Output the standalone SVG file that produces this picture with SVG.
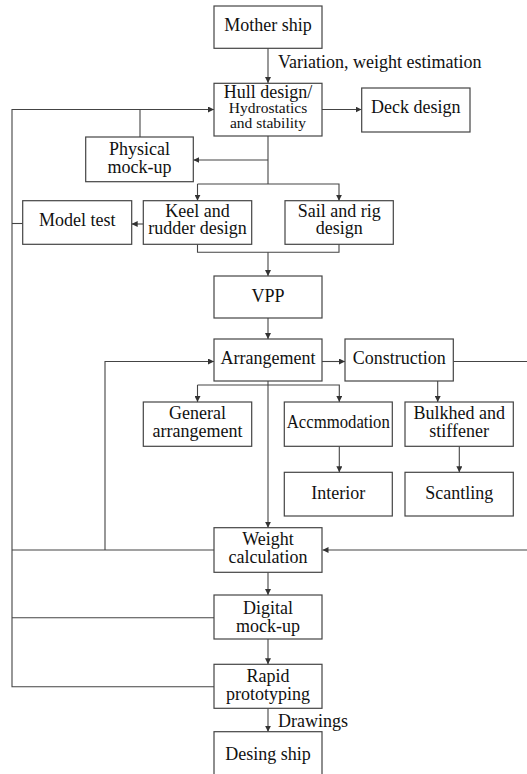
<svg xmlns="http://www.w3.org/2000/svg" width="527" height="774" viewBox="0 0 527 774">
<defs>
<marker id="ah" viewBox="0 0 10 10" refX="10" refY="5" markerWidth="6" markerHeight="6" markerUnits="userSpaceOnUse" orient="auto">
<path d="M0,0 L10,5 L0,10 z" fill="#333"/>
</marker>
<style>
.box{fill:#fff;stroke:#444;stroke-width:1.2}
.t{font-family:"Liberation Serif","Times New Roman",serif;font-size:18px;fill:#111;text-anchor:middle}
.s{font-size:15.5px}
.l{text-anchor:start}
.c{fill:none;stroke:#444;stroke-width:1.1}
.a{marker-end:url(#ah)}
</style>
</defs>
<rect width="527" height="774" fill="#fff"/>
<g id="connectors">
<path class="c a" d="M268,48 V83"/>
<path class="c a" d="M322,109.5 H361.5"/>
<path class="c a" d="M214,686.7 H12 V109.5 H214"/>
<path class="c" d="M12,223.5 H22.7"/>
<path class="c" d="M12,550 H214"/>
<path class="c" d="M12,617.7 H214"/>
<path class="c" d="M140,137 V109.5"/>
<path class="c" d="M268,136 V184"/>
<path class="c a" d="M268,160 H193.3"/>
<path class="c a" d="M197.5,184 V200.7"/>
<path class="c a" d="M197.5,184 H339 V200.7"/>
<path class="c a" d="M143.3,224 H131.7"/>
<path class="c" d="M197.5,244.3 V252.3 H339 V244.3"/>
<path class="c a" d="M268,252.3 V276"/>
<path class="c a" d="M268,318 V339"/>
<path class="c a" d="M322,361.5 H345"/>
<path class="c" d="M453.3,361.5 H527"/>
<path class="c a" d="M527,550 H322.5"/>
<path class="c a" d="M105,550 V361.5 H214"/>
<path class="c a" d="M197.5,385 V402"/>
<path class="c a" d="M197.5,385 H339.3 V402"/>
<path class="c a" d="M268,381 V527.7"/>
<path class="c a" d="M437.7,381 V402"/>
<path class="c a" d="M339.3,446.3 V472.3"/>
<path class="c a" d="M459.3,446.3 V472.3"/>
<path class="c a" d="M268,572.3 V595"/>
<path class="c a" d="M268,639 V664.3"/>
<path class="c a" d="M268,708.3 V731.7"/>
<text class="t l" x="278" y="68">Variation, weight estimation</text>
<text class="t l" x="278" y="726.7">Drawings</text>
</g>
<g id="mother-ship"><rect class="box" x="214" y="6" width="108" height="42.3"/><text class="t" x="268" y="31">Mother ship</text></g>
<g id="hull-design"><rect class="box" x="214" y="83.3" width="108" height="52.7"/><text class="t" x="268" y="97.5">Hull design/</text><text class="t s" x="268" y="112.5">Hydrostatics</text><text class="t s" x="268" y="128.3">and stability</text></g>
<g id="deck-design"><rect class="box" x="361.7" y="88" width="108.3" height="44"/><text class="t" x="415.8" y="113.3">Deck design</text></g>
<g id="physical-mockup"><rect class="box" x="85.7" y="137" width="107.6" height="44.7"/><text class="t" x="139.5" y="155">Physical</text><text class="t" x="139.5" y="172.7">mock-up</text></g>
<g id="model-test"><rect class="box" x="22.7" y="200.7" width="109" height="43.6"/><text class="t" x="77.2" y="226.3">Model test</text></g>
<g id="keel-rudder"><rect class="box" x="143.3" y="200.7" width="108.4" height="43.6"/><text class="t" x="197.5" y="216.7">Keel and</text><text class="t" x="197.5" y="234.3">rudder design</text></g>
<g id="sail-rig"><rect class="box" x="285" y="200.7" width="108.3" height="43.6"/><text class="t" x="339.2" y="216.7">Sail and rig</text><text class="t" x="339.2" y="234.3">design</text></g>
<g id="vpp"><rect class="box" x="214" y="276" width="108" height="42"/><text class="t" x="268" y="301.7">VPP</text></g>
<g id="arrangement"><rect class="box" x="214" y="339" width="108" height="42"/><text class="t" x="268" y="364">Arrangement</text></g>
<g id="construction"><rect class="box" x="345" y="339" width="108.3" height="42"/><text class="t" x="399.2" y="364">Construction</text></g>
<g id="general-arrangement"><rect class="box" x="143.3" y="402" width="108.4" height="44.3"/><text class="t" x="197.5" y="419">General</text><text class="t" x="197.5" y="437.3">arrangement</text></g>
<g id="accommodation"><rect class="box" x="284.3" y="402" width="108" height="44.3"/><text class="t" x="338.3" y="428.3" textLength="103" lengthAdjust="spacingAndGlyphs">Accmmodation</text></g>
<g id="bulkhead"><rect class="box" x="405" y="402" width="108.3" height="44.3"/><text class="t" x="459.2" y="419">Bulkhed and</text><text class="t" x="459.2" y="437.3">stiffener</text></g>
<g id="interior"><rect class="box" x="284.3" y="472.3" width="108" height="43.7"/><text class="t" x="338.3" y="499">Interior</text></g>
<g id="scantling"><rect class="box" x="405" y="472.3" width="108.3" height="43.7"/><text class="t" x="459.2" y="499">Scantling</text></g>
<g id="weight-calculation"><rect class="box" x="214" y="527.7" width="108" height="44.6"/><text class="t" x="268" y="545">Weight</text><text class="t" x="268" y="563.3">calculation</text></g>
<g id="digital-mockup"><rect class="box" x="214" y="595" width="108" height="44"/><text class="t" x="268" y="614">Digital</text><text class="t" x="268" y="632.3">mock-up</text></g>
<g id="rapid-prototyping"><rect class="box" x="214" y="664.3" width="108" height="44"/><text class="t" x="268" y="681.7">Rapid</text><text class="t" x="268" y="700">prototyping</text></g>
<g id="desing-ship"><rect class="box" x="214" y="731.7" width="108" height="46"/><text class="t" x="268" y="760">Desing ship</text></g>
</svg>
